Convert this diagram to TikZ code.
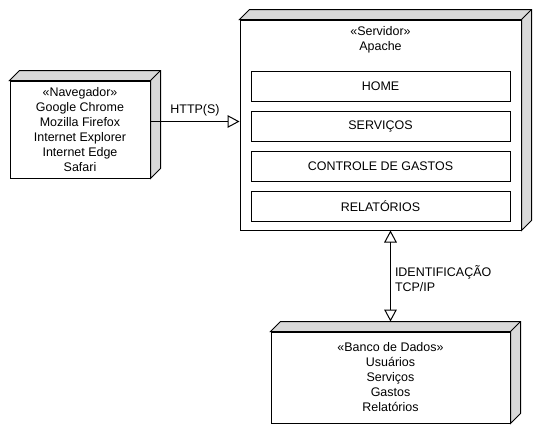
\documentclass[tikz,border=0pt]{standalone}
\usepackage{fontspec}
\setmainfont{Liberation Sans}
\usepackage{tikz}
\usetikzlibrary{arrows.meta, positioning, calc}
\definecolor{sidegray}{RGB}{217, 217, 217}
\newcommand{\diafont}{\fontsize{9.35}{11.25}\selectfont}
% top and right faces of a 3D node
\newcommand{\nodedepth}[1]{%
    \filldraw[fill=sidegray, draw=black] (#1.north west) -- ++(10,-10) -- ($(#1.north east)+(10,-10)$) -- ($(#1.south east)+(10,-10)$) -- (#1.south east) -- (#1.north east) -- cycle;
    \draw (#1.north east) -- ++(10,-10);
}

\begin{document}
\begin{tikzpicture}[
    x=0.75pt, y=-0.75pt,
    line width=0.75pt,
    nodebox/.style={rectangle, draw, fill=white, align=center, font=\diafont, inner sep=0pt},
    partbox/.style={rectangle, draw, minimum width=194.25pt, minimum height=22.5pt, align=center, font=\diafont},
    arrow/.style={-{Triangle[open, length=9pt, width=9.5pt]}},
    bothway/.style={{Triangle[open, length=9pt, width=9.5pt]}-{Triangle[open, length=9pt, width=9.5pt]}},
    conlabel/.style={font=\diafont, align=left, inner sep=0pt},
]
\useasboundingbox (0,0) rectangle (540,432);

% ============ BROWSER ============
\node[nodebox, minimum width=105pt, minimum height=72.75pt] (nav) at (80,129.5) {
    «Navegador»\\Google Chrome\\Mozilla Firefox\\Internet Explorer\\Internet Edge\\Safari
};
\nodedepth{nav}

% ============ SERVER ============
\node[nodebox, minimum width=210.75pt, minimum height=157.5pt] (srv) at (380.5,125) {};
\nodedepth{srv}
\node[font=\diafont, align=center, inner sep=0pt] (srvtitle) at (380.5,40) {«Servidor»\\Apache};

% Pages
\node[partbox] (home) at (380.5,86) {HOME};
\node[partbox, below=6.75pt of home] (servicos) {SERVIÇOS};
\node[partbox, below=6.75pt of servicos] (gastos) {CONTROLE DE GASTOS};
\node[partbox, below=6.75pt of gastos] (relatorios) {RELATÓRIOS};

% ============ DATABASE ============
\node[nodebox, minimum width=179.25pt, minimum height=68.25pt] (bd) at (390.5,377.5) {
    «Banco de Dados»\\Usuários\\Serviços\\Gastos\\Relatórios
};
\nodedepth{bd}

% ============ ARROWS ============
\draw[arrow] ([yshift=6pt]nav.east) -- ([yshift=6pt]nav.east -| srv.west)
    node[conlabel, midway, above=4pt] (http) {HTTP(S)};
\draw[bothway] (bd.north |- srv.south) -- ([yshift=7.5pt]bd.north)
    node[conlabel, midway, right=3pt, yshift=-2pt] (ident) {IDENTIFICAÇÃO\\TCP/IP};

\end{tikzpicture}
\end{document}
